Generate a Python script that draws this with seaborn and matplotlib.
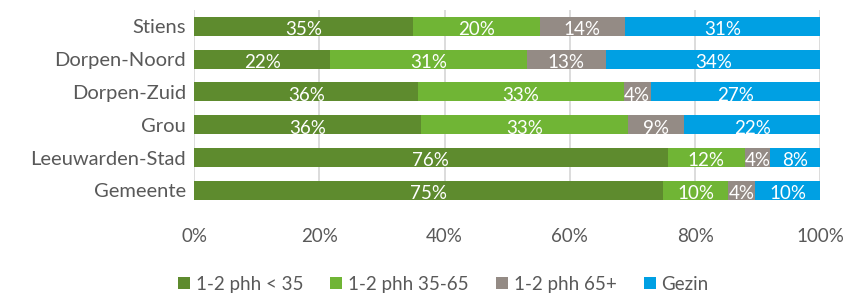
import seaborn as sns
import matplotlib.pyplot as plt
import pandas as pd
import numpy as np

regions = ['Stiens', 'Dorpen-Noord', 'Dorpen-Zuid', 'Grou', 'Leeuwarden-Stad', 'Gemeente']
series = ['1-2 phh < 35', '1-2 phh 35-65', '1-2 phh 65+', 'Gezin']
jong = [35.0, 21.7, 35.8, 36.3, 75.6, 74.9]
midden = [20.2, 31.4, 32.8, 33.0, 12.4, 10.4]
oud = [13.6, 12.7, 4.3, 8.9, 4.0, 4.3]
gezin = [31.2, 34.2, 27.1, 21.8, 8.0, 10.4]
colors = ['#5E8B2E', '#70B535', '#948B85', '#00A0E3']

df = pd.DataFrame({'regio': regions, series[0]: jong, series[1]: midden,
                   series[2]: oud, series[3]: gezin})
cum = df[series].cumsum(axis=1)

plt.rcParams['font.family'] = ['Lato', 'DejaVu Sans']
fig = plt.figure(figsize=(8.59, 2.96), dpi=100)
ax = fig.add_axes([0.226, 0.324, 0.729, 0.642])

# draw cumulative totals back to front so the segments stack
for s, c in reversed(list(zip(series, colors))):
    sns.barplot(x=cum[s], y=df['regio'], color=c, width=0.58, ax=ax,
                label=s, edgecolor='none', orient='h', saturation=1)
ax.legend_.remove()

for i, r in df.iterrows():
    start = 0
    for s in series:
        v = r[s]
        ax.text(start + v / 2, i + 0.1, '{:.0f}%'.format(v), color='white',
                ha='center', va='center', fontsize=13.5)
        start += v

ax.set_xlim(0, 100)
ax.set_ylim(5.3, -0.5)
ax.set_xticks(np.arange(0, 101, 20))
ax.set_xticklabels(['{}%'.format(t) for t in range(0, 101, 20)])
ax.grid(axis='x', color='#D9D9D9', linewidth=1.3)
ax.set_axisbelow(True)
for sp in ax.spines.values():
    sp.set_visible(False)
ax.tick_params(length=0, colors='#595959', labelsize=13.5)
ax.tick_params(axis='x', pad=20)
ax.tick_params(axis='y', pad=6, labelsize=14.5)
ax.set_xlabel('')
ax.set_ylabel('')

handles, labels = ax.get_legend_handles_labels()
order = [labels.index(s) for s in series]
leg = fig.legend([handles[k] for k in order], series, loc='center',
                 bbox_to_anchor=(0.516, 0.04), ncol=4, frameon=False,
                 fontsize=13.5, handlelength=0.65, handleheight=0.65,
                 handletextpad=0.3, columnspacing=1.45, labelcolor='#595959')

fig.savefig('out.png', dpi=100)
